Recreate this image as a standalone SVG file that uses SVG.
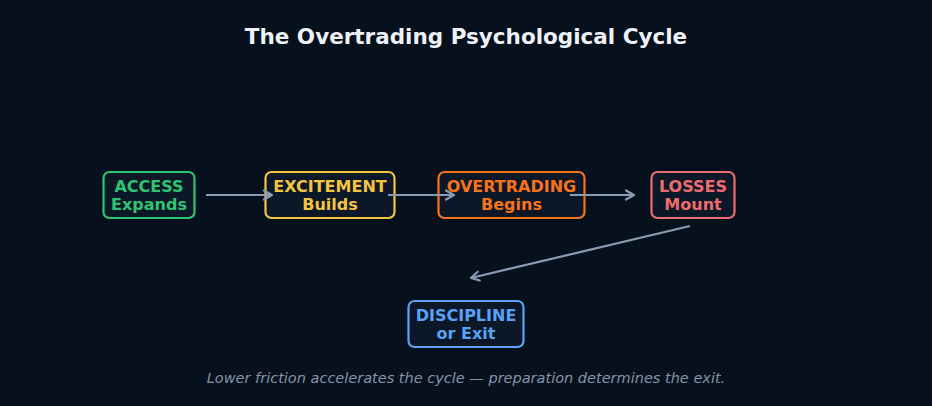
<svg xmlns="http://www.w3.org/2000/svg" width="932" height="406" viewBox="0 0 932 406">
<defs>
<style>
.bg{fill:#07111d}
.box{fill:#0c1727;stroke-width:2.2}
.lbl{font-family:"DejaVu Sans",sans-serif;font-weight:bold;font-size:16px;text-anchor:middle}
.title{font-family:"DejaVu Sans",sans-serif;font-weight:bold;font-size:21.5px;fill:#eef2f8;text-anchor:middle}
.foot{font-family:"DejaVu Sans",sans-serif;font-style:italic;font-size:14.5px;fill:#8593a8;text-anchor:middle}
.conn{stroke:#8a9bb4;stroke-width:2.2;fill:none;marker-end:url(#ah)}
</style>
<marker id="ah" viewBox="0 0 12 12" refX="10" refY="6" markerWidth="12" markerHeight="12" markerUnits="userSpaceOnUse" orient="auto">
<path d="M2,1.5 L10,6 L2,10.5" fill="none" stroke="#8a9bb4" stroke-width="2.2" stroke-linecap="round" stroke-linejoin="round"/>
</marker>
</defs>
<rect class="bg" x="0" y="0" width="932" height="406"/>
<text class="title" x="466" y="44">The Overtrading Psychological Cycle</text>
<g id="access">
<rect class="box" x="103.5" y="172" width="91" height="46" rx="6" stroke="#2ec572"/>
<text class="lbl" x="149" y="192" fill="#2ec572">ACCESS</text>
<text class="lbl" x="149" y="210" fill="#2ec572">Expands</text>
</g>
<g id="excitement">
<rect class="box" x="265.5" y="172" width="129" height="46" rx="6" stroke="#f4c53f"/>
<text class="lbl" x="330" y="192" fill="#f4c53f">EXCITEMENT</text>
<text class="lbl" x="330" y="210" fill="#f4c53f">Builds</text>
</g>
<g id="overtrading">
<rect class="box" x="438.5" y="172" width="146" height="46" rx="6" stroke="#f77219"/>
<text class="lbl" x="511.5" y="192" fill="#f77219">OVERTRADING</text>
<text class="lbl" x="511.5" y="210" fill="#f77219">Begins</text>
</g>
<g id="losses">
<rect class="box" x="651.5" y="172" width="83" height="46" rx="6" stroke="#ee6b6e"/>
<text class="lbl" x="693" y="192" fill="#ee6b6e">LOSSES</text>
<text class="lbl" x="693" y="210" fill="#ee6b6e">Mount</text>
</g>
<g id="discipline">
<rect class="box" x="408.5" y="301" width="115" height="46" rx="6" stroke="#5aa2f5"/>
<text class="lbl" x="466" y="321" fill="#5aa2f5">DISCIPLINE</text>
<text class="lbl" x="466" y="339" fill="#5aa2f5">or Exit</text>
</g>
<g id="connectors">
<line class="conn" x1="206" y1="195" x2="272" y2="195"/>
<line class="conn" x1="388" y1="195" x2="454" y2="195"/>
<line class="conn" x1="570" y1="195" x2="634" y2="195"/>
<line class="conn" x1="690" y1="226" x2="471" y2="278"/>
</g>
<text class="foot" x="466" y="383">Lower friction accelerates the cycle — preparation determines the exit.</text>
</svg>
